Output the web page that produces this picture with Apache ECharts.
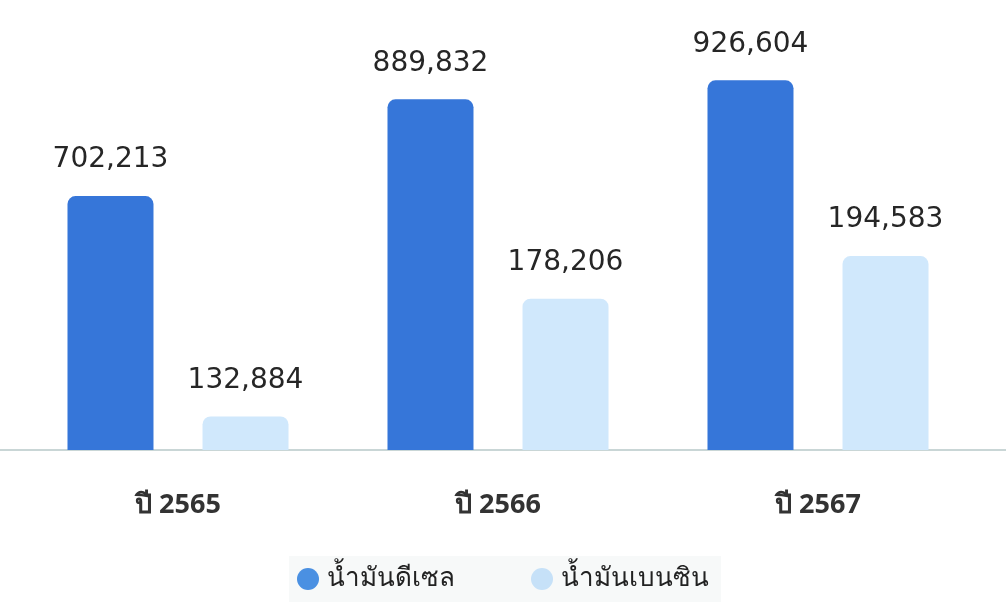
<!DOCTYPE html>
<html>
<head>
<meta charset="utf-8">
<script src="https://cdn.jsdelivr.net/npm/echarts@6/dist/echarts.min.js"></script>
<style>
  html, body { margin: 0; padding: 0; background: #ffffff; }
  #main { width: 1006px; height: 602px; }
</style>
</head>
<body>
<div id="main"></div>
<script>
// ข้อมูล
var years = ['ปี 2565', 'ปี 2566', 'ปี 2567'];
var seriesNames = ['น้ำมันดีเซล', 'น้ำมันเบนซิน'];
var dieselValues = [702213, 889832, 926604];
var benzinValues = [132884, 178206, 194583];

function fmt(v) {
    return String(v).replace(/\B(?=(\d{3})+(?!\d))/g, ',');
}

var myChart = echarts.init(document.getElementById('main'));

var labelStyle = {
    show: true,
    position: 'top',
    distance: 22,
    fontSize: 28,
    fontFamily: 'DejaVu Sans',
    color: '#262626',
    formatter: function (p) { return fmt(p.value); }
};

var option = {
    backgroundColor: '#ffffff',
    animation: false,
    legend: {
        bottom: 0,
        left: 'center',
        icon: 'circle',
        itemWidth: 22,
        itemHeight: 22,
        itemGap: 76,
        padding: [10, 12, 10, 8],
        backgroundColor: '#f7f9f9',
        textStyle: { fontSize: 26, color: '#222222', fontFamily: 'Noto Sans', padding: [0, 0, 0, 3] },
        data: [
            { name: seriesNames[0], itemStyle: { color: '#4a90e2' } },
            { name: seriesNames[1], itemStyle: { color: '#c6e1f8' } }
        ]
    },
    grid: [
        { left: 18, right: 28, top: 60, bottom: 152 },
        { left: 0, right: 0, top: 60, bottom: 152 }
    ],
    xAxis: [
        {
            type: 'category',
            gridIndex: 0,
            data: years,
            axisLine: { show: false },
            axisTick: { show: false },
            axisLabel: {
                margin: 42,
                fontSize: 27,
                fontWeight: 'bold',
                color: '#333333',
                fontFamily: 'Noto Sans'
            }
        },
        {
            type: 'category',
            gridIndex: 1,
            data: years,
            axisLine: { show: true, lineStyle: { color: '#c9d6d6', width: 2 } },
            axisTick: { show: false },
            axisLabel: { show: false }
        }
    ],
    yAxis: [
        { type: 'value', gridIndex: 0, min: 210000, max: 966000, show: false, splitLine: { show: false } },
        { type: 'value', gridIndex: 0, min: 120000, max: 270000, show: false, splitLine: { show: false } },
        { type: 'value', gridIndex: 1, show: false, splitLine: { show: false } }
    ],
    series: [
        {
            name: seriesNames[0],
            type: 'bar',
            xAxisIndex: 0,
            yAxisIndex: 0,
            data: dieselValues,
            barWidth: 86,
            barGap: '57%',
            itemStyle: { color: '#3676d9', borderRadius: [8, 8, 0, 0] },
            label: labelStyle
        },
        {
            name: seriesNames[1],
            type: 'bar',
            xAxisIndex: 0,
            yAxisIndex: 1,
            data: benzinValues,
            barWidth: 86,
            barGap: '57%',
            itemStyle: { color: '#d0e8fc', borderRadius: [8, 8, 0, 0] },
            label: labelStyle
        }
    ]
};

myChart.setOption(option);
</script>
</body>
</html>
